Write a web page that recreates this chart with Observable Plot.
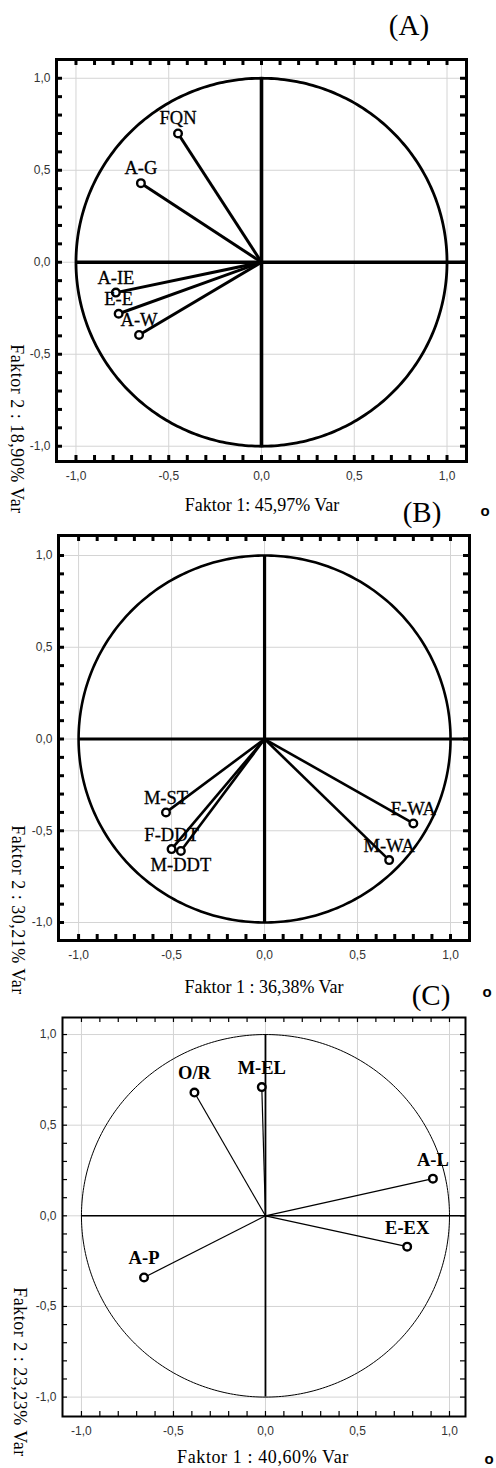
<!DOCTYPE html>
<html><head><meta charset="utf-8">
<script src="https://cdn.jsdelivr.net/npm/d3@7"></script>
<script src="https://cdn.jsdelivr.net/npm/@observablehq/plot@0.6"></script>
<style>
body{margin:0;background:#fff;}
#root{position:relative;width:496px;height:1468px;overflow:hidden;background:#fff;}
.abs{position:absolute;white-space:nowrap;font-family:"Liberation Serif","Times New Roman",serif;color:#000;line-height:1;}
.plot{position:absolute;left:0;}
</style></head><body><div id="root"></div>
<script>
// ---- data ----
const panelLetters = ["(A)", "(B)", "(C)"];
const xTitles = ["Faktor 1: 45,97% Var", "Faktor 1 : 36,38% Var", "Faktor 1 : 40,60% Var"];
const yTitles = ["Faktor 2 : 18,90% Var", "Faktor 2 : 30,21% Var", "Faktor 2 : 23,23% Var"];

const namesA = ["FQN", "A-G", "A-IE", "E-E", "A-W"];
const f1A = [-0.45, -0.65, -0.785, -0.77, -0.66];
const f2A = [0.70, 0.43, -0.165, -0.28, -0.395];

const namesB = ["M-ST", "F-DDT", "M-DDT", "F-WA", "M-WA"];
const f1B = [-0.53, -0.50, -0.45, 0.80, 0.67];
const f2B = [-0.40, -0.60, -0.61, -0.46, -0.66];

const namesC = ["O/R", "M-EL", "A-L", "E-EX", "A-P"];
const f1C = [-0.386, -0.02, 0.91, 0.77, -0.66];
const f2C = [0.68, 0.71, 0.205, -0.17, -0.34];

const labelTicks = [-1, -0.5, 0, 0.5, 1];
const minorTicks = d3.range(-10, 11).map(i => i / 10);

// ---- layout / style (not data) ----
const panels = [
  {names: namesA, f1: f1A, f2: f2A, top: 0, mt: 59, inner: 402, mb: 34, ml: 56, mr: 30,
   xd: [-1.105, 1.105], yd: [-1.083, 1.102], sw: 3, fw: 3, tw: 3, tl: 6, cw: 2.8, bold: false, dy: -15, below: [],
   letter: [409, 25], xt: [262, 505], yt: [17, 429], o: null},
  {names: namesB, f1: f1B, f2: f2B, top: 495, mt: 40, inner: 405, mb: 34, ml: 58, mr: 27,
   xd: [-1.108, 1.102], yd: [-1.098, 1.109], sw: 2.6, fw: 3, tw: 3, tl: 6, cw: 2.6, bold: false, dy: -14, below: ["M-DDT"],
   letter: [422, 512], xt: [264, 987], yt: [18, 910], o: [485, 510]},
  {names: namesC, f1: f1C, f2: f2C, top: 974, mt: 43, inner: 399, mb: 34, ml: 62, mr: 31,
   xd: [-1.103, 1.087], yd: [-1.107, 1.094], sw: 1.2, fw: 2, tw: 1.2, tl: 5, cw: 1, bold: true, dy: -19, below: [],
   letter: [431, 995], xt: [263, 1457], yt: [20, 1372], o: [487, 991]}
];

const fmt = d => d3.format(".1f")(d).replace(".", ",").replace("−", "-");
const circle = d3.range(0, 361, 1).map(a => ({x: Math.cos(a * Math.PI / 180), y: Math.sin(a * Math.PI / 180)}));
const root = document.getElementById("root");

function addText(txt, cx, cy, size, extra = {}) {
  const d = document.createElement("div");
  d.className = "abs";
  d.textContent = txt;
  d.style.fontSize = size + "px";
  d.style.left = cx + "px";
  d.style.top = cy + "px";
  d.style.transform = "translate(-50%,-50%)" + (extra.rotate ? ` rotate(${extra.rotate}deg)` : "");
  if (extra.family) d.style.fontFamily = extra.family;
  if (extra.weight) d.style.fontWeight = extra.weight;
  if (extra.spacing) d.style.letterSpacing = extra.spacing;
  root.appendChild(d);
}

panels.forEach((p, i) => {
  const pts = p.names.map((n, k) => ({name: n, x: p.f1[k], y: p.f2[k]}));
  const above = pts.filter(d => !p.below.includes(d.name));
  const below = pts.filter(d => p.below.includes(d.name));
  const txtOpts = {fontFamily: "Liberation Serif", fontSize: 18.5, fontWeight: p.bold ? "bold" : "normal", fill: "#000", stroke: p.bold ? null : "#000", strokeWidth: p.bold ? null : 0.3};
  const tl = p.tl;
  const iw = 496 - p.ml - p.mr;
  const tickStyle = {stroke: "#000", strokeWidth: p.tw};
  const chart = Plot.plot({
    width: 496,
    height: p.mt + p.inner + p.mb,
    marginTop: p.mt, marginBottom: p.mb, marginLeft: p.ml, marginRight: p.mr,
    style: {fontFamily: "Liberation Sans, Arial, sans-serif", fontSize: "12px", color: "#333", background: "transparent", overflow: "visible"},
    x: {domain: p.xd},
    y: {domain: p.yd},
    marks: [
      Plot.gridX(labelTicks, {stroke: "#d4d4d4", strokeOpacity: 1}),
      Plot.gridY(labelTicks, {stroke: "#d4d4d4", strokeOpacity: 1}),
      Plot.axisX(labelTicks, {anchor: "bottom", tickSize: 0, tickPadding: 10, tickFormat: fmt, label: null, letterSpacing: 1}),
      Plot.axisY(labelTicks, {anchor: "left", tickSize: 0, tickPadding: 6, tickFormat: fmt, label: null}),
      // inward minor ticks on all four sides of the frame
      Plot.tickX(minorTicks, {x: d => d, insetTop: p.inner - tl, ...tickStyle}),
      Plot.tickX(minorTicks, {x: d => d, insetBottom: p.inner - tl, ...tickStyle}),
      Plot.tickY(minorTicks, {y: d => d, insetRight: iw - tl, ...tickStyle}),
      Plot.tickY(minorTicks, {y: d => d, insetLeft: iw - tl, ...tickStyle}),
      Plot.line(circle, {x: "x", y: "y", stroke: "#000", strokeWidth: p.cw}),
      Plot.ruleY([0], {x1: -1, x2: p.xd[1], stroke: "#000", strokeWidth: p.sw + 0.4}),
      Plot.ruleX([0], {y1: -1, y2: 1, stroke: "#000", strokeWidth: p.sw + 0.6}),
      Plot.link(pts, {x1: 0, y1: 0, x2: "x", y2: "y", stroke: "#000", strokeWidth: p.sw}),
      Plot.dot(pts, {x: "x", y: "y", r: 3.8, stroke: "#000", strokeWidth: 2.4, fill: "#fff"}),
      Plot.text(above, {x: "x", y: "y", text: "name", dy: p.dy, ...txtOpts}),
      Plot.text(below, {x: "x", y: "y", text: "name", dy: -p.dy, ...txtOpts}),
      Plot.frame({stroke: "#000", strokeWidth: p.fw})
    ]
  });
  chart.classList.add("plot");
  chart.style.top = p.top + "px";
  root.appendChild(chart);

  addText(panelLetters[i], p.letter[0], p.letter[1], 29);
  addText(xTitles[i], p.xt[0], p.xt[1], 18, i === 2 ? {spacing: "0.6px"} : {});
  addText(yTitles[i], p.yt[0], p.yt[1], 18, {rotate: 90, spacing: "0.5px"});
  if (p.o) addText("o", p.o[0], p.o[1], 15, {family: "Liberation Sans", weight: "bold"});
});
addText("o", 489, 1458, 15, {family: "Liberation Sans", weight: "bold"});
</script>
</body></html>
